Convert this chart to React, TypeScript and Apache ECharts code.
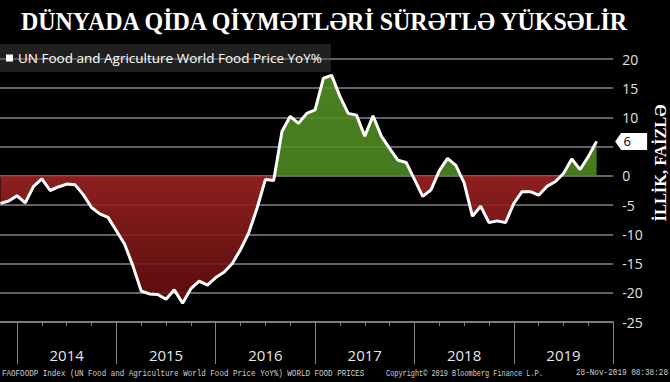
import React, { useEffect, useRef } from 'react';
import * as echarts from 'echarts';

// ---- data (monthly YoY %, Oct 2013 .. Oct 2019) ----
const firstYear = 2013;
const firstMonth = 10;
const yoyValues = [
  -4.7, -4.3, -3.4,
  -4.6, -1.8, -0.5, -2.5, -1.9, -1.4, -1.5, -3.2, -5.4, -6.5, -7.1, -9.4,
  -11.7, -15.4, -19.7, -20.2, -20.3, -21.1, -19.5, -21.8, -19.3, -18.0, -18.7, -17.4,
  -16.5, -15.0, -12.6, -9.7, -5.5, -0.6, -0.8, 7.6, 10.2, 9.0, 10.7, 11.3,
  16.7, 17.2, 13.6, 10.7, 10.4, 6.8, 10.3, 6.8, 4.7, 2.7, 2.3, -0.6,
  -3.5, -2.4, 0.9, 3.0, 1.8, -1.2, -6.9, -5.2, -8.0, -7.7, -8.0, -4.7,
  -2.7, -2.7, -3.3, -1.8, -1.0, 0.4, 2.9, 1.1, 3.3, 5.9,
];
const yearLabels = ['2014', '2015', '2016', '2017', '2018', '2019'];
const yMin = -25;
const yMax = 20;
const yStep = 5;

const seriesName = 'UN Food and Agriculture World Food Price YoY%';
const titleText = 'DÜNYADA QİDA QİYMƏTLƏRİ SÜRƏTLƏ YÜKSƏLİR';
const axisTitle = 'İLLİK, FAİZLƏ';
const footerLeft = 'FAOFOODP Index (UN Food and Agriculture World Food Price YoY%) WORLD FOOD PRICES';
const footerMid = 'Copyright© 2019 Bloomberg Finance L.P.';
const footerRight = '28-Nov-2019 08:38:28';

// ---- layout ----
const W = 670;
const H = 382;
const X0 = 17; // pixel of start of first labelled year
const PX_PER_MONTH = 8.28;
const GRID_TOP = 59;
const GRID_H = 263;

function measure(text: string, font: string): number {
  const c = document.createElement('canvas').getContext('2d');
  if (!c) return 1;
  c.font = font;
  return c.measureText(text).width || 1;
}

export default function App() {
  const ref = useRef<HTMLDivElement>(null);

  useEffect(() => {
    if (!ref.current) return;
    const chart = echarts.init(ref.current, undefined, { renderer: 'svg' });

    const baseYear = Number(yearLabels[0]);
    const points = yoyValues.map((v, i) => {
      const x = (firstYear - baseYear) * 12 + firstMonth + i;
      return [x, v];
    });
    const last = points[points.length - 1];
    const nYears = yearLabels.length;
    const xEnd = nYears * 12;

    const zeroY = GRID_TOP + ((yMax - 0) / (yMax - yMin)) * GRID_H;
    const bottomY = GRID_TOP + GRID_H;
    const zf = zeroY / H;
    const bf = bottomY / H;
    const pxPerUnit = GRID_H / (yMax - yMin);

    const titleFont = 'bold 25px "Liberation Serif"';
    const nameFont = 'bold 17px "Liberation Serif"';
    const footFont = '9px "Liberation Mono"';

    const areaGradient = {
      type: 'linear',
      x: 0, y: 0, x2: 0, y2: H,
      global: true,
      colorStops: [
        { offset: 0, color: '#5a9a28' },
        { offset: zf - 0.0005, color: '#4f8a22' },
        { offset: zf, color: '#a02424' },
        { offset: bf, color: '#5e0a0a' },
        { offset: 1, color: '#5e0a0a' },
      ],
    };

    const gray = '#858585';

    chart.setOption({
      animation: false,
      backgroundColor: '#000',
      textStyle: { fontFamily: '"Open Sans"' },
      legend: {
        data: [{ name: seriesName, icon: 'rect' }],
        left: 0,
        top: 44,
        itemWidth: 7,
        itemHeight: 7,
        padding: [7, 9, 7, 6],
        backgroundColor: 'rgba(70,70,70,0.45)',
        textStyle: { color: '#fff', fontSize: 13.5, fontFamily: '"Open Sans"' },
        selectedMode: false,
      },
      grid: [
        {
          left: X0 - 12 * PX_PER_MONTH,
          top: GRID_TOP,
          width: (xEnd + 12) * PX_PER_MONTH,
          height: GRID_H,
          containLabel: false,
          outerBoundsMode: 'none',
        },
        {
          left: X0 - 6 * PX_PER_MONTH,
          top: GRID_TOP,
          width: (xEnd + 6) * PX_PER_MONTH,
          height: GRID_H,
          containLabel: false,
          outerBoundsMode: 'none',
        },
      ],
      xAxis: [
        {
          type: 'value',
          gridIndex: 0,
          min: -12,
          max: xEnd,
          interval: 12,
          axisLine: { show: true, onZero: false, lineStyle: { color: gray, width: 1.5 } },
          axisTick: { show: true, inside: false, length: 42, lineStyle: { color: gray, width: 1 } },
          minorTick: { show: true, splitNumber: 4, length: 4, lineStyle: { color: gray, width: 1 } },
          axisLabel: { show: false },
          splitLine: { show: false },
        },
        {
          type: 'value',
          gridIndex: 1,
          min: -6,
          max: xEnd,
          interval: 12,
          axisLine: { show: false, onZero: false },
          axisTick: { show: false },
          splitLine: { show: false },
          axisLabel: {
            show: true,
            margin: 25,
            color: '#e6e6e6',
            fontSize: 15,
            fontFamily: '"Open Sans"',
            formatter: (v: number) => {
              const idx = (v - 6) / 12;
              return Number.isInteger(idx) && idx >= 0 && idx < yearLabels.length ? yearLabels[idx] : '';
            },
          },
        },
      ],
      yAxis: [
        {
          type: 'value',
          gridIndex: 0,
          position: 'right',
          min: yMin,
          max: yMax,
          interval: yStep,
          axisLine: { show: false },
          axisTick: { show: false },
          splitLine: { show: true, lineStyle: { color: gray, width: 1.5 } },
          axisLabel: {
            color: '#e0e0e0',
            fontSize: 14,
            margin: 9,
            fontFamily: '"Open Sans"',
            // the last-value marker covers the tick label nearest to it
            formatter: (v: number) =>
              v !== 0 && Math.abs(v - last[1]) * pxPerUnit < 10 ? '' : String(v),
          },
        },
        { type: 'value', gridIndex: 1, show: false, min: yMin, max: yMax },
      ],
      series: [
        {
          type: 'line',
          name: 'area',
          xAxisIndex: 0,
          yAxisIndex: 0,
          data: points,
          symbol: 'none',
          silent: true,
          lineStyle: { width: 0, opacity: 0 },
          areaStyle: { color: areaGradient, opacity: 0.88 },
          z: 2,
        },
        {
          type: 'line',
          name: seriesName,
          xAxisIndex: 0,
          yAxisIndex: 0,
          data: points,
          symbol: 'none',
          lineStyle: { color: '#fff', width: 3 },
          itemStyle: { color: '#fff' },
          z: 3,
          markPoint: {
            symbol: 'path://M0,8 L6,0 L32,0 L32,16 L6,16 Z',
            symbolSize: [32, 17],
            symbolKeepAspect: false,
            symbolOffset: [34.5, 0],
            itemStyle: { color: '#fff' },
            label: {
              show: true,
              position: 'inside',
              offset: [-4, 0],
              color: '#000',
              fontSize: 13,
              fontFamily: '"Open Sans"',
              formatter: (p: any) => String(Math.round(p.value)),
            },
            data: [{ coord: [last[0], last[1]], value: last[1] }],
          },
        },
      ],
      graphic: [
        {
          type: 'text',
          x: 324,
          y: 21,
          scaleX: 610 / measure(titleText, titleFont),
          style: { text: titleText, font: titleFont, fill: '#fff', align: 'center', verticalAlign: 'middle' },
        },
        {
          type: 'text',
          x: 660,
          y: 163,
          rotation: Math.PI / 2,
          scaleX: 117 / measure(axisTitle, nameFont),
          style: { text: axisTitle, font: nameFont, fill: '#fff', align: 'center', verticalAlign: 'middle' },
        },
        {
          type: 'text',
          x: 2,
          y: 373,
          scaleX: 363 / measure(footerLeft, footFont),
          style: { text: footerLeft, font: footFont, fill: '#d0d0d0', align: 'left', verticalAlign: 'middle' },
        },
        {
          type: 'text',
          x: 386,
          y: 373,
          scaleX: 157 / measure(footerMid, footFont),
          style: { text: footerMid, font: footFont, fill: '#d0d0d0', align: 'left', verticalAlign: 'middle' },
        },
        {
          type: 'text',
          x: 668,
          y: 373,
          scaleX: 92 / measure(footerRight, footFont),
          style: { text: footerRight, font: footFont, fill: '#d0d0d0', align: 'right', verticalAlign: 'middle' },
        },
      ],
    });

    return () => chart.dispose();
  }, []);

  return (
    <div
      ref={ref}
      style={{ position: 'fixed', left: 0, top: 0, width: W, height: H, background: '#000' }}
    />
  );
}
